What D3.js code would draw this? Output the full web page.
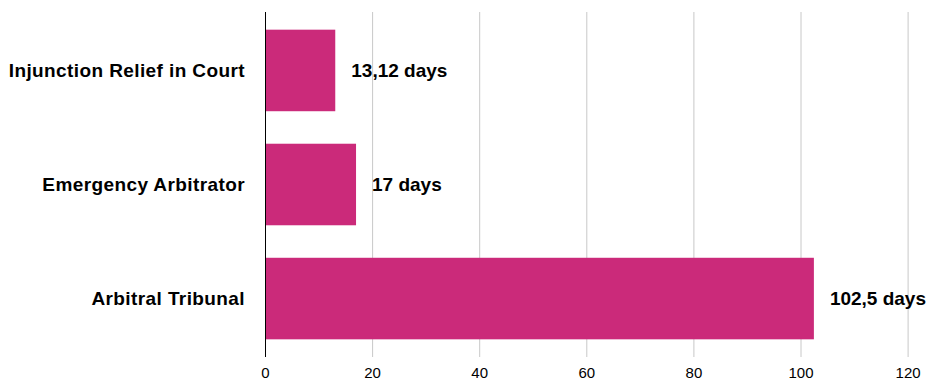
<!DOCTYPE html>
<html>
<head>
<meta charset="utf-8">
<script src="https://cdn.jsdelivr.net/npm/d3@7"></script>
<style>
  body { margin: 0; background: #fff; }
  svg { display: block; font-family: "Liberation Sans", Arial, Helvetica, sans-serif; }
</style>
</head>
<body>
<div id="chart"></div>
<script>
const categories = ['Injunction Relief in Court', 'Emergency Arbitrator', 'Arbitral Tribunal']
const values = [13.12, 17, 102.5]
const valueLabels = ['13,12 days', '17 days', '102,5 days']
const ticks = [0, 20, 40, 60, 80, 100, 120]

const width = 928, height = 380
const margin = {top: 12, right: 20, bottom: 23, left: 265}

const data = categories.map((c, i) => ({name: c, value: values[i], label: valueLabels[i]}))

const x = d3.scaleLinear()
    .domain([0, 120])
    .range([margin.left, 907.6])

const y = d3.scaleBand()
    .domain(categories)
    .range([margin.top, height - margin.bottom])
    .paddingInner(0.285)
    .paddingOuter(0.155)

const svg = d3.select('#chart')
    .append('svg')
    .attr('width', width)
    .attr('height', height)

// gridlines
svg.append('g')
    .selectAll('line')
    .data(ticks.filter(t => t !== 0))
    .enter()
    .append('line')
    .attr('x1', d => x(d) + 0.5)
    .attr('x2', d => x(d) + 0.5)
    .attr('y1', margin.top)
    .attr('y2', height - margin.bottom)
    .attr('stroke', '#c8c8c8')
    .attr('stroke-width', 1)

// zero axis line
svg.append('line')
    .attr('x1', x(0) + 0.5)
    .attr('x2', x(0) + 0.5)
    .attr('y1', margin.top)
    .attr('y2', height - margin.bottom)
    .attr('stroke', '#000')
    .attr('stroke-width', 1)

// bottom tick labels
const xAxis = d3.axisBottom(x)
    .tickValues(ticks)
    .tickSize(0)
    .tickPadding(0)

svg.append('g')
    .attr('transform', `translate(0, ${height - margin.bottom})`)
    .call(xAxis)
    .call(g => g.select('.domain').remove())
    .call(g => g.selectAll('text')
        .attr('dy', null)
        .attr('y', 21)
        .attr('font-size', 15)
        .attr('fill', '#000'))

// bars
svg.append('g')
    .selectAll('rect')
    .data(data)
    .enter()
    .append('rect')
    .attr('x', x(0) + 1)
    .attr('y', d => y(d.name))
    .attr('width', d => x(d.value) - x(0) - 1)
    .attr('height', y.bandwidth())
    .attr('fill', '#CB2A7A')

// category labels
svg.append('g')
    .selectAll('text')
    .data(data)
    .enter()
    .append('text')
    .attr('x', 245)
    .attr('y', d => y(d.name) + y.bandwidth() / 2)
    .attr('dy', '0.35em')
    .attr('text-anchor', 'end')
    .attr('font-size', 19)
    .attr('letter-spacing', 0.4)
    .attr('font-weight', 'bold')
    .attr('fill', '#000')
    .text(d => d.name)

// value labels
svg.append('g')
    .selectAll('text')
    .data(data)
    .enter()
    .append('text')
    .attr('x', d => x(d.value) + 16)
    .attr('y', d => y(d.name) + y.bandwidth() / 2)
    .attr('dy', '0.35em')
    .attr('font-size', 19)
    .attr('font-weight', 'bold')
    .attr('fill', '#000')
    .text(d => d.label)
</script>
</body>
</html>
